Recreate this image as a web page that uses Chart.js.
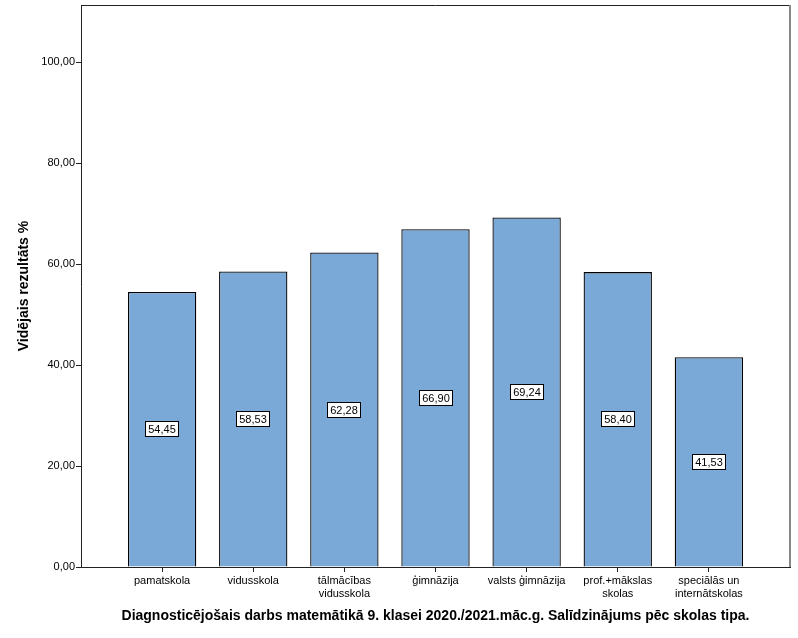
<!DOCTYPE html>
<html><head><meta charset="utf-8">
<script src="https://cdn.jsdelivr.net/npm/chart.js@4/dist/chart.umd.min.js"></script>
<style>html,body{margin:0;padding:0;background:#fff}#wrap{width:798px;height:638px}</style>
</head><body><div id="wrap"><canvas id="c" width="798" height="638"></canvas></div>
<script>
const categories = [['pamatskola'], ['vidusskola'], ['tālmācības','vidusskola'], ['ģimnāzija'], ['valsts ģimnāzija'], ['prof.+mākslas','skolas'], ['speciālās un','internātskolas']];
const values = [54.45, 58.53, 62.28, 66.90, 69.24, 58.40, 41.53];
const yTicks = [0, 20, 40, 60, 80, 100];
const yTitle = 'Vidējais rezultāts %';
const xTitle = 'Diagnosticējošais darbs matemātikā 9. klasei 2020./2021.māc.g. Salīdzinājums pēc skolas tipa.';

const fmt = v => v.toFixed(2).replace('.', ',');
const FONT = "'Liberation Sans', Arial, sans-serif";

const framePlugin = {
  id: 'frame',
  afterDraw(chart) {
    const {ctx, chartArea: a} = chart;
    ctx.save();
    ctx.strokeStyle = '#222'; ctx.lineWidth = 1;
    ctx.beginPath(); ctx.moveTo(a.left, a.top + 0.5); ctx.lineTo(a.right, a.top + 0.5); ctx.stroke();
    ctx.strokeStyle = '#888'; ctx.lineWidth = 2;
    ctx.beginPath(); ctx.moveTo(a.right, a.top); ctx.lineTo(a.right, a.bottom); ctx.stroke();
    const meta = chart.getDatasetMeta(0);
    ctx.font = '11px ' + FONT;
    ctx.textAlign = 'center'; ctx.textBaseline = 'middle';
    meta.data.forEach((bar, i) => {
      const txt = fmt(values[i]);
      const cx = Math.round(bar.x), cy = Math.round((bar.y + bar.base) / 2);
      const w = Math.ceil(ctx.measureText(txt).width) + 6, h = 16;
      const x0 = cx - Math.round(w / 2), y0 = cy - h / 2;
      ctx.fillStyle = '#fff'; ctx.fillRect(x0, y0, w, h);
      ctx.strokeStyle = '#000'; ctx.lineWidth = 1;
      ctx.strokeRect(x0 + 0.5, y0 + 0.5, w - 1, h - 1);
      ctx.fillStyle = '#000'; ctx.fillText(txt, cx, cy + 1);
    });
    ctx.restore();
  }
};

new Chart(document.getElementById('c'), {
  type: 'bar',
  data: {
    datasets: [{
      data: values.map((v, i) => ({x: i, y: v})),
      backgroundColor: '#7BA9D7',
      borderColor: '#000',
      borderWidth: 1.3,
      borderSkipped: 'bottom',
      barPercentage: 0.75,
      categoryPercentage: 1
    }]
  },
  options: {
    responsive: false,
    animation: false,
    layout: {padding: {top: 5, right: 8, left: 0, bottom: 0}},
    plugins: {legend: {display: false}, tooltip: {enabled: false}},
    scales: {
      x: {
        type: 'linear', min: -0.89, max: 6.89, offset: false,
        afterBuildTicks: s => { s.ticks = categories.map((c, i) => ({value: i})); },
        afterFit: s => { s.height = 71; s.paddingLeft = 0; s.paddingRight = 0; },
        grid: {offset: false, drawOnChartArea: false, drawTicks: true, tickLength: 5, color: '#222'},
        border: {display: true, color: '#222', width: 1},
        ticks: {
          autoSkip: false, maxRotation: 0, padding: 2,
          color: '#000', font: {family: FONT, size: 11}, lineHeight: 1.1,
          callback: (v) => categories[v]
        },
        title: {display: true, text: xTitle, color: '#000', font: {family: FONT, size: 14, weight: 'bold'}, padding: {top: 0, bottom: 13}}
      },
      y: {
        min: 0, max: 111.3,
        afterBuildTicks: s => { s.ticks = yTicks.map(v => ({value: v})); },
        afterFit: s => { s.width = 81; s.paddingTop = 0; s.paddingBottom = 0; },
        grid: {drawOnChartArea: false, drawTicks: true, tickLength: 5, color: '#222'},
        border: {display: true, color: '#222', width: 1},
        ticks: {padding: 1, color: '#000', font: {family: FONT, size: 11}, callback: v => fmt(v)},
        title: {display: true, text: yTitle, color: '#000', font: {family: FONT, size: 14, weight: 'bold'}, padding: {top: 16, bottom: 0}}
      }
    }
  },
  plugins: [framePlugin]
});
</script></body></html>
